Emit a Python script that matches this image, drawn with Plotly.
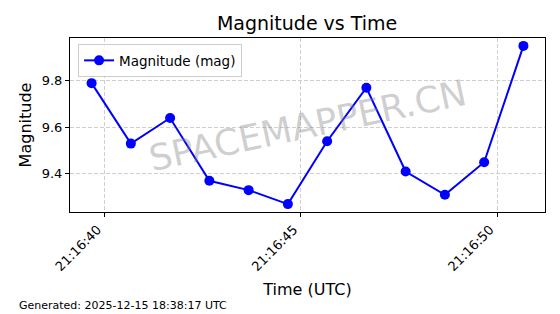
import plotly.graph_objects as go

times = ["2025-12-15 21:16:39.67", "2025-12-15 21:16:40.67", "2025-12-15 21:16:41.67",
         "2025-12-15 21:16:42.67", "2025-12-15 21:16:43.67", "2025-12-15 21:16:44.67",
         "2025-12-15 21:16:45.67", "2025-12-15 21:16:46.67", "2025-12-15 21:16:47.67",
         "2025-12-15 21:16:48.67", "2025-12-15 21:16:49.67", "2025-12-15 21:16:50.67"]
magnitude = [9.79, 9.53, 9.64, 9.37, 9.33, 9.27, 9.54, 9.77, 9.41, 9.31, 9.45, 9.95]
x_range = ["2025-12-15 21:16:39.12", "2025-12-15 21:16:51.22"]
y_range = [9.236, 9.984]
y_ticks = [9.4, 9.6, 9.8]

FONT = "DejaVu Sans"

fig = go.Figure()
fig.add_trace(go.Scatter(
    x=times, y=magnitude, mode="lines+markers", name="Magnitude (mag)",
    line=dict(color="#0000ff", width=2),
    marker=dict(color="#0000ff", size=10),
))

axis_common = dict(
    showline=True, linecolor="black", linewidth=1, mirror=True,
    ticks="outside", ticklen=4, tickcolor="black",
    showgrid=True, gridcolor="#cfcfcf", griddash="4px,2px", gridwidth=1,
    zeroline=False, tickfont=dict(family=FONT, size=13, color="black"),
)

fig.update_layout(
    width=560, height=314,
    margin=dict(l=70, r=15, t=38, b=102),
    paper_bgcolor="white", plot_bgcolor="white",
    font=dict(family=FONT, color="black"),
    title=dict(text="Magnitude vs Time", x=0.5484, xanchor="center", y=0.925, yanchor="middle",
               font=dict(family=FONT, size=19, color="black")),
    showlegend=True,
    legend=dict(x=0.017, y=0.965, xanchor="left", yanchor="top",
                bgcolor="rgba(255,255,255,0.8)", bordercolor="#cccccc", borderwidth=1,
                font=dict(family=FONT, size=13.5, color="black")),
    xaxis=dict(axis_common, type="date", range=x_range, tickformat="%H:%M:%S",
               dtick=5000, tick0="2025-12-15 21:16:40", tickangle=-45, ticklabelshift=-7,
               title=dict(text="Time (UTC)", font=dict(family=FONT, size=16), standoff=10)),
    yaxis=dict(axis_common, range=y_range, tickvals=y_ticks, tickformat=".1f",
               title=dict(text="Magnitude", font=dict(family=FONT, size=16), standoff=6)),
)

fig.add_annotation(
    text="SPACEMAPPER.CN", xref="paper", yref="paper", x=0.5, y=0.5,
    showarrow=False, textangle=-12,
    font=dict(family=FONT, size=36, color="rgba(128,128,128,0.38)"),
)
fig.add_annotation(
    text="Generated: 2025-12-15 18:38:17 UTC", xref="paper", yref="paper",
    x=(17 - 70) / 475, y=(212 - 305) / 174, xanchor="left", yanchor="middle", showarrow=False,
    font=dict(family=FONT, size=11, color="black"),
)

fig.write_html("out.html")
